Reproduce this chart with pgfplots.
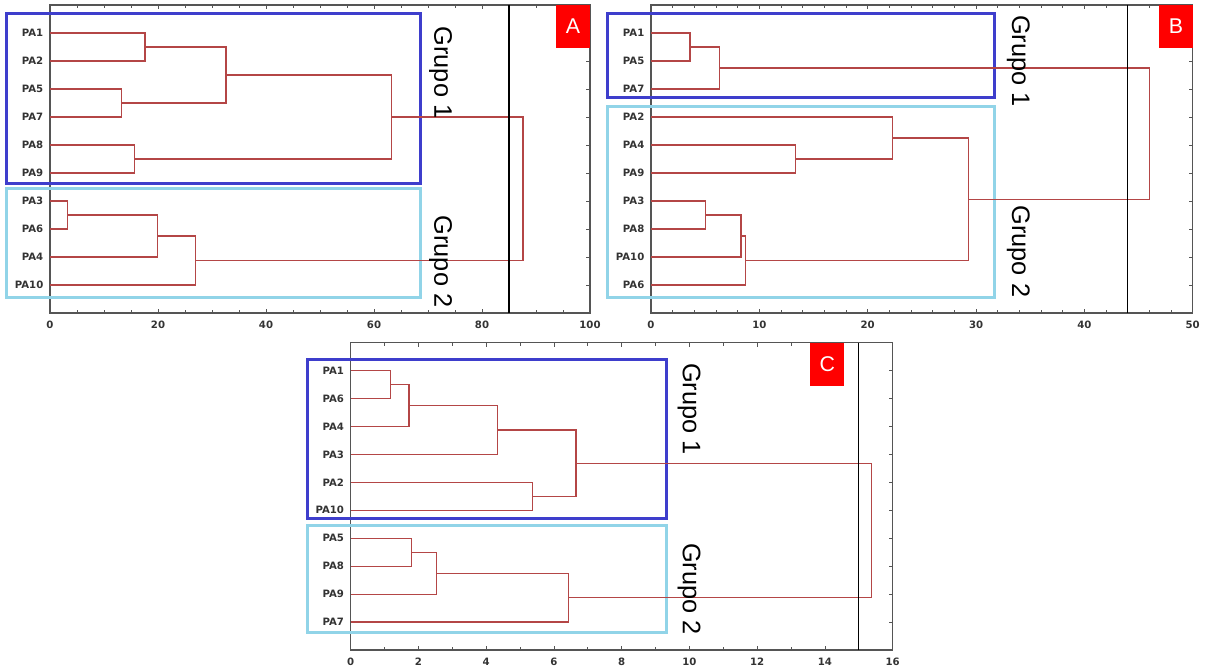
\documentclass[border=0pt]{standalone}
\usepackage{pgfplots}
\pgfplotsset{compat=1.18}
\usepackage{fontspec}
\setmainfont{Liberation Sans}
\newfontfamily\tickfont{DejaVu Sans}
\definecolor{dend}{RGB}{180,70,70}
\definecolor{gblue}{RGB}{62,62,204}
\definecolor{gcyan}{RGB}{145,212,232}
\definecolor{framec}{RGB}{85,85,85}
\pgfplotsset{dendro/.style={
  scale only axis, height=231pt, y dir=reverse, ymin=0, ymax=11, xmin=0,
  clip=false, axis line style={framec, line width=0.9pt},
  ytick={1,...,10}, tick style={framec, line width=0.6pt},
  major tick length=3pt, minor tick length=2.2pt,
  tick label style={font=\tickfont\bfseries\fontsize{7.6}{8}\selectfont, text=black!80},
  /pgf/number format/assume math mode=true,
  xticklabel style={yshift=-2.5pt},
  yticklabel style={xshift=-1.5pt},
},
dl/.style={dend, line width=0.85pt, mark=none}}
\newcommand{\grupo}[1]{\fontsize{19}{19}\selectfont Grupo #1}
\begin{document}
\begin{tikzpicture}
\useasboundingbox (0,0) rectangle (906.75pt,503.25pt);
% ---------------- A ----------------
\begin{axis}[dendro, width=405pt, xmax=100, at={(37.5pt,268.5pt)}, anchor=south west,
  xtick={0,20,...,100}, minor x tick num=3,
  yticklabels={PA1,PA2,PA5,PA7,PA8,PA9,PA3,PA6,PA4,PA10}]
\draw[gblue, line width=2.2pt] (axis cs:-8.1,0.29) rectangle (axis cs:68.66,6.36);
\draw[gcyan, line width=2.2pt] (axis cs:-8.1,6.57) rectangle (axis cs:68.66,10.46);
\addplot[dl] coordinates {(0,1)(17.6,1)(17.6,2)(0,2)};
\addplot[dl] coordinates {(0,3)(13.2,3)(13.2,4)(0,4)};
\addplot[dl] coordinates {(17.6,1.5)(32.6,1.5)(32.6,3.5)(13.2,3.5)};
\addplot[dl] coordinates {(0,5)(15.7,5)(15.7,6)(0,6)};
\addplot[dl] coordinates {(32.6,2.5)(63.3,2.5)(63.3,5.5)(15.7,5.5)};
\addplot[dl] coordinates {(0,7)(3.3,7)(3.3,8)(0,8)};
\addplot[dl] coordinates {(3.3,7.5)(19.9,7.5)(19.9,9)(0,9)};
\addplot[dl] coordinates {(19.9,8.25)(26.9,8.25)(26.9,10)(0,10)};
\addplot[dl] coordinates {(63.3,4)(87.6,4)(87.6,9.125)(26.9,9.125)};
\addplot[black, line width=1pt] coordinates {(85,0)(85,11)};
\fill[red] (axis cs:93.7,0) rectangle (axis cs:100,1.54);
\node[white, font=\fontsize{16}{16}\selectfont] at (axis cs:96.85,0.77) {A};
\node[rotate=-90, anchor=base] at (axis cs:71.2,2.41) {\grupo{1}};
\node[rotate=-90, anchor=base] at (axis cs:71.2,9.16) {\grupo{2}};
\end{axis}
% ---------------- B ----------------
\begin{axis}[dendro, width=406.3pt, xmax=50, at={(488.25pt,268.5pt)}, anchor=south west,
  xtick={0,10,...,50}, minor x tick num=4,
  yticklabels={PA1,PA5,PA7,PA2,PA4,PA9,PA3,PA8,PA10,PA6}]
\draw[gblue, line width=2.2pt] (axis cs:-3.99,0.32) rectangle (axis cs:31.68,3.29);
\draw[gcyan, line width=2.2pt] (axis cs:-3.99,3.64) rectangle (axis cs:31.68,10.43);
\addplot[dl] coordinates {(0,1)(3.6,1)(3.6,2)(0,2)};
\addplot[dl] coordinates {(3.6,1.5)(6.3,1.5)(6.3,3)(0,3)};
\addplot[dl] coordinates {(0,5)(13.3,5)(13.3,6)(0,6)};
\addplot[dl] coordinates {(0,4)(22.3,4)(22.3,5.5)(13.3,5.5)};
\addplot[dl] coordinates {(0,7)(5.0,7)(5.0,8)(0,8)};
\addplot[dl] coordinates {(5.0,7.5)(8.3,7.5)(8.3,9)(0,9)};
\addplot[dl] coordinates {(8.3,8.25)(8.7,8.25)(8.7,10)(0,10)};
\addplot[dl] coordinates {(22.3,4.75)(29.3,4.75)(29.3,9.125)(8.7,9.125)};
\addplot[dl] coordinates {(6.3,2.25)(46.0,2.25)(46.0,6.9375)(29.3,6.9375)};
\addplot[black, line width=1pt] coordinates {(44,0)(44,11)};
\fill[red] (axis cs:46.9,0) rectangle (axis cs:50,1.54);
\node[white, font=\fontsize{16}{16}\selectfont] at (axis cs:48.45,0.77) {B};
\node[rotate=-90, anchor=base] at (axis cs:33.33,2.0) {\grupo{1}};
\node[rotate=-90, anchor=base] at (axis cs:33.33,8.8) {\grupo{2}};
\end{axis}
% ---------------- C ----------------
\begin{axis}[dendro, width=406.5pt, height=230.5pt, xmax=16, at={(263pt,15.75pt)}, anchor=south west,
  xtick={0,2,...,16}, minor x tick num=1,
  yticklabels={PA1,PA6,PA4,PA3,PA2,PA10,PA5,PA8,PA9,PA7}]
\draw[gblue, line width=2.2pt] (axis cs:-1.28,0.59) rectangle (axis cs:9.33,6.30);
\draw[gcyan, line width=2.2pt] (axis cs:-1.28,6.55) rectangle (axis cs:9.33,10.36);
\addplot[dl] coordinates {(0,1)(1.17,1)(1.17,2)(0,2)};
\addplot[dl] coordinates {(1.17,1.5)(1.72,1.5)(1.72,3)(0,3)};
\addplot[dl] coordinates {(1.72,2.25)(4.33,2.25)(4.33,4)(0,4)};
\addplot[dl] coordinates {(0,5)(5.37,5)(5.37,6)(0,6)};
\addplot[dl] coordinates {(4.33,3.125)(6.65,3.125)(6.65,5.5)(5.37,5.5)};
\addplot[dl] coordinates {(0,7)(1.8,7)(1.8,8)(0,8)};
\addplot[dl] coordinates {(1.8,7.5)(2.53,7.5)(2.53,9)(0,9)};
\addplot[dl] coordinates {(2.53,8.25)(6.43,8.25)(6.43,10)(0,10)};
\addplot[dl] coordinates {(6.65,4.3125)(15.37,4.3125)(15.37,9.125)(6.43,9.125)};
\addplot[black, line width=1pt] coordinates {(15,0)(15,11)};
\fill[red] (axis cs:13.57,0) rectangle (axis cs:14.57,1.54);
\node[white, font=\fontsize{16}{16}\selectfont] at (axis cs:14.07,0.77) {C};
\node[rotate=-90, anchor=base] at (axis cs:9.81,2.37) {\grupo{1}};
\node[rotate=-90, anchor=base] at (axis cs:9.81,8.81) {\grupo{2}};
\end{axis}
\end{tikzpicture}
\end{document}
